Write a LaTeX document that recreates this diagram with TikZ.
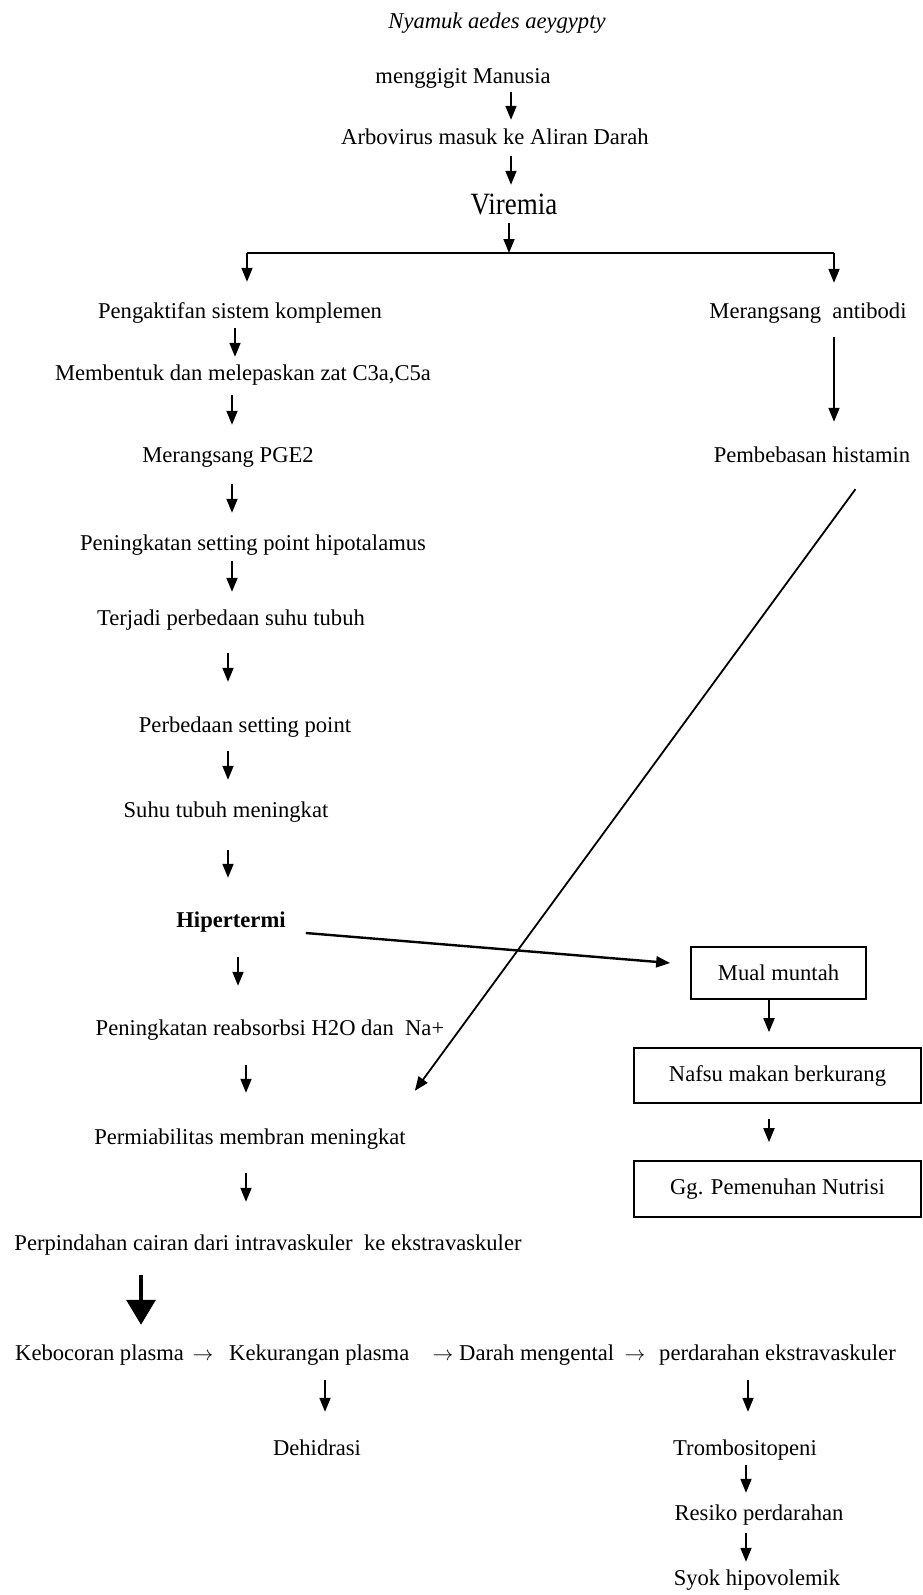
\documentclass[tikz,border=0pt]{standalone}
\usepackage{fontspec}
\setmainfont{Liberation Serif}
\usetikzlibrary{arrows.meta,calc}
\newcommand\dgfs{\fontsize{22.6}{27}\selectfont}
\newcommand\dn[5]{\coordinate (tmpx) at (#3,0);\draw[arr,shorten <=#4pt,shorten >=#5pt] (#1.south -| tmpx) -- (#2.north -| tmpx);}
\begin{document}
\begin{tikzpicture}[x=1pt,y=-1pt,
  txt/.style={inner sep=0pt,text height=16pt,text depth=5pt,font=\dgfs,anchor=base},
  box/.style={draw,line width=1.7pt,inner sep=0pt,font=\dgfs,anchor=center},
  arr/.style={line width=1.8pt,-{Triangle[length=14pt,width=11pt]}},
  bigarr/.style={line width=3.5pt,-{Triangle[length=25pt,width=29pt]}}]
\fill[white] (0,0) rectangle (922,1595);
\useasboundingbox (0,0) rectangle (922,1595);
% texts
\node[txt,font=\dgfs\itshape] (nyamuk) at (497,29) {Nyamuk aedes aeygypty};
\node[txt] (gigit) at (463,84) {menggigit Manusia};
\node[txt] (arbo) at (495,144) {Arbovirus masuk ke Aliran Darah};
\node[txt,font=\fontsize{31}{36}\selectfont,xscale=0.87,text height=21pt,text depth=6pt] (viremia) at (514,214) {Viremia};
\node[txt] (pengaktifan) at (240,318) {Pengaktifan sistem komplemen};
\node[txt] (antibodi) at (808,318) {Merangsang\ \ antibodi};
\node[txt] (membentuk) at (243,380) {Membentuk dan melepaskan zat C3a,C5a};
\node[txt] (pge) at (228,462) {Merangsang PGE2};
\node[txt] (histamin) at (812,462) {Pembebasan histamin};
\node[txt] (setting) at (253,550) {Peningkatan setting point hipotalamus};
\node[txt] (terjadi) at (231,625) {Terjadi perbedaan suhu tubuh};
\node[txt] (perbedaan) at (245,732) {Perbedaan setting point};
\node[txt] (suhu) at (226,817) {Suhu tubuh meningkat};
\node[txt,font=\dgfs\bfseries] (hiper) at (231,927) {Hipertermi};
\node[txt] (reab) at (270,1035) {Peningkatan reabsorbsi H2O dan\ \ Na+};
\node[txt] (perm) at (250,1144) {Permiabilitas membran meningkat};
\node[txt] (perp) at (268,1250) {Perpindahan cairan dari intravaskuler\ \ ke ekstravaskuler};
\node[txt,anchor=base west] (bocor) at (15,1360) {Kebocoran plasma};
\node[txt] (ar1) at (203,1360) {$\rightarrow$};
\node[txt,anchor=base west] (kurang) at (229,1360) {Kekurangan plasma};
\node[txt] (ar2) at (443,1360) {$\rightarrow$};
\node[txt,anchor=base west] (darah) at (459,1360) {Darah mengental};
\node[txt] (ar3) at (635,1360) {$\rightarrow$};
\node[txt,anchor=base west] (perdarahan) at (659,1360) {perdarahan ekstravaskuler};
\node[txt] (dehidrasi) at (317,1455) {Dehidrasi};
\node[txt] (tromb) at (745,1455) {Trombositopeni};
\node[txt] (resiko) at (759,1520) {Resiko perdarahan};
\node[txt] (syok) at (757,1585) {Syok hipovolemik};
% boxes
\node[box,minimum width=175pt,minimum height=52pt] (mual) at (778.5,973) {Mual muntah};
\node[box,minimum width=287pt,minimum height=55pt] (nafsu) at (777.5,1075.5) {Nafsu makan berkurang};
\node[box,minimum width=287pt,minimum height=56pt] (gg) at (777.5,1189) {Gg. Pemenuhan Nutrisi};
% top arrows
\dn{gigit}{arbo}{511}{3}{8}
\dn{arbo}{viremia}{511}{7}{8}
\coordinate (splitL) at (247,253);
\coordinate (splitR) at (834,253);
\coordinate (splitM) at (509,253);
\draw[line width=2.2pt] (splitL) -- (splitR);
\draw[arr,shorten <=3pt] (viremia.south -| splitM) -- (splitM);
\draw[arr,shorten >=20pt] (splitL) -- (pengaktifan.north -| splitL);
\draw[arr,shorten >=19pt] (splitR) -- (antibodi.north -| splitR);
% left column
\dn{pengaktifan}{membentuk}{235}{5}{7}
\dn{membentuk}{pge}{232}{10}{21}
\dn{pge}{setting}{232}{17}{21}
\dn{setting}{terjadi}{232}{6}{17}
\dn{terjadi}{perbedaan}{228}{23}{34}
\dn{perbedaan}{suhu}{228}{14}{21}
\dn{suhu}{hiper}{228}{28}{33}
\dn{hiper}{reab}{238}{25}{33}
\dn{reab}{perm}{246}{25}{35}
\dn{perm}{perp}{246}{24}{32}
\coordinate (bx) at (141,0);
\draw[bigarr,shorten <=20pt,shorten >=19pt] (perp.south -| bx) -- (bocor.north -| bx);
\dn{kurang}{dehidrasi}{325}{15}{27}
\dn{perdarahan}{tromb}{748}{15}{27}
\dn{tromb}{resiko}{746}{5}{11}
\dn{resiko}{syok}{746}{8}{7}
% right column
\dn{antibodi}{histamin}{834}{14}{24}
\dn{mual}{nafsu}{769}{0}{15}
\dn{nafsu}{gg}{769}{15}{18}
% diagonals
\draw[arr] ($(histamin.south east)+(-55,22)$) -- ($(perm.north east)+(9,-37)$);
\draw[arr,line width=2.4pt] ($(hiper.east)+(20,11.5)$) -- ($(mual.west)+(-20,-10)$);
\end{tikzpicture}
\end{document}
